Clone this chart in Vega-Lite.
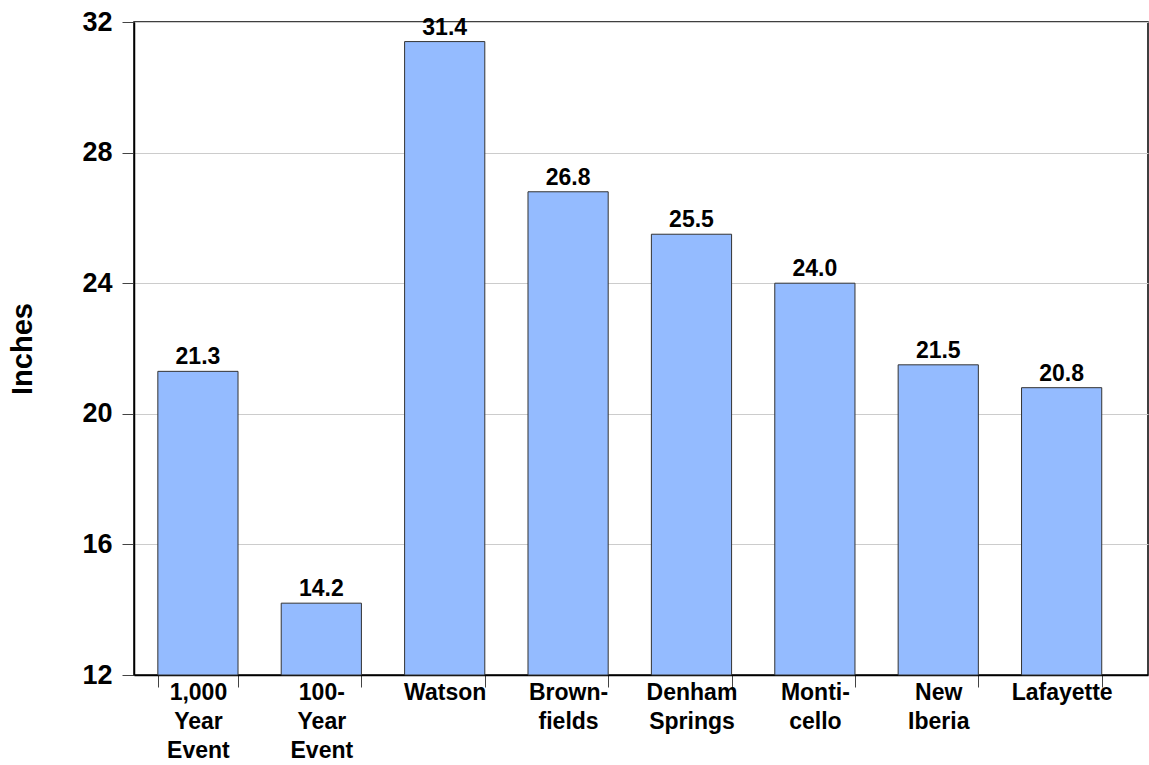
{
  "$schema": "https://vega.github.io/schema/vega-lite/v6.json",
  "autosize": {"type": "none"},
  "width": 1014,
  "height": 653,
  "padding": {"left": 134, "top": 22, "right": 1, "bottom": 90},
  "background": "white",
  "config": {
    "font": "Liberation Sans",
    "view": {"stroke": "#000000", "strokeWidth": 1.5}
  },
  "data": {
    "values": [
      {"site": "1,000|Year|Event", "inches": 21.3},
      {"site": "100-|Year|Event", "inches": 14.2},
      {"site": "Watson", "inches": 31.4},
      {"site": "Brown-|fields", "inches": 26.8},
      {"site": "Denham|Springs", "inches": 25.5},
      {"site": "Monti-|cello", "inches": 24.0},
      {"site": "New|Iberia", "inches": 21.5},
      {"site": "Lafayette", "inches": 20.8}
    ]
  },
  "encoding": {
    "x": {
      "field": "site",
      "type": "nominal",
      "sort": null,
      "scale": {"paddingInner": 0.35, "paddingOuter": 0.284, "align": 0.34},
      "axis": {
        "title": null,
        "labelAngle": 0,
        "labelExpr": "split(datum.label, '|')",
        "labelFont": "Liberation Sans",
        "labelFontSize": 23,
        "labelFontWeight": "bold",
        "labelColor": "#000000",
        "labelLineHeight": 29,
        "labelPadding": -6,
        "labelBaseline": "top",
        "tickBand": "extent",
        "tickSize": 12,
        "tickColor": "#444444",
        "domainColor": "#000000",
        "domainWidth": 1.5,
        "grid": false
      }
    },
    "y": {
      "field": "inches",
      "type": "quantitative",
      "scale": {"domain": [12, 32], "zero": false, "nice": false},
      "axis": {
        "title": "Inches",
        "titleFont": "Liberation Sans",
        "titleFontSize": 29,
        "titleFontWeight": "bold",
        "titleColor": "#000000",
        "titlePadding": 44,
        "values": [12, 16, 20, 24, 28, 32],
        "labelFont": "Liberation Sans",
        "labelFontSize": 27,
        "labelFontWeight": "bold",
        "labelColor": "#000000",
        "labelPadding": 10,
        "tickSize": 12,
        "tickColor": "#444444",
        "domainColor": "#000000",
        "domainWidth": 1.5,
        "grid": true,
        "gridColor": "#cccccc",
        "gridWidth": 1
      }
    }
  },
  "layer": [
    {
      "mark": {"type": "bar", "color": "#94bbff", "stroke": "#333333", "strokeWidth": 1},
      "encoding": {
        "y2": {"datum": 12}
      }
    },
    {
      "mark": {
        "type": "text",
        "baseline": "alphabetic",
        "dy": -7,
        "font": "Liberation Sans",
        "fontSize": 23,
        "fontWeight": "bold",
        "color": "#000000"
      },
      "encoding": {
        "text": {"field": "inches", "type": "quantitative", "format": ".1f"}
      }
    }
  ]
}
